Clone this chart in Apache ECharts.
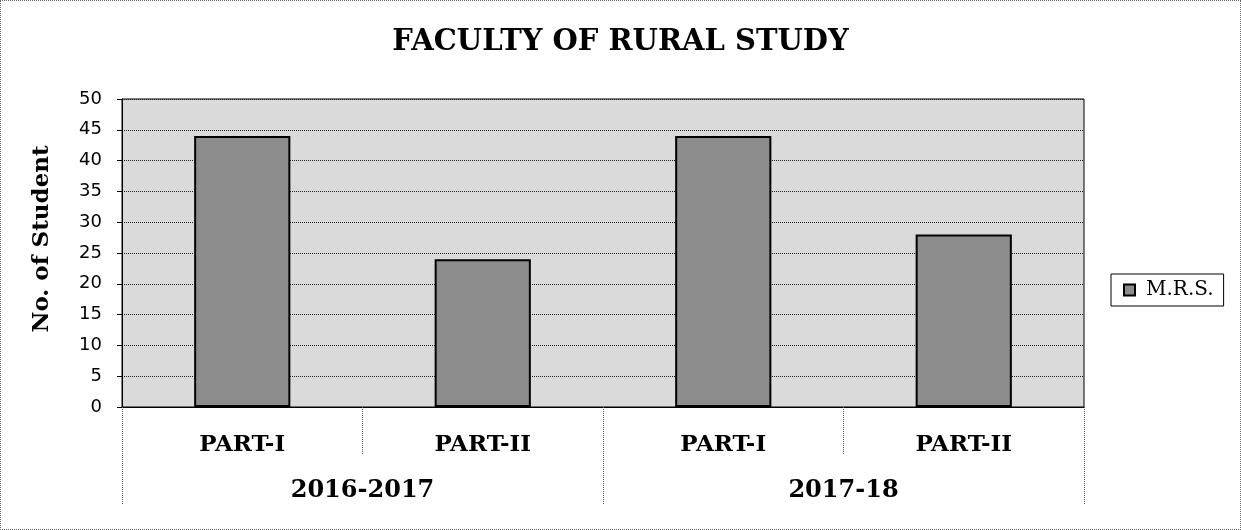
<!DOCTYPE html>
<html>
<head>
<meta charset="utf-8">
<script src="https://cdn.jsdelivr.net/npm/echarts@6/dist/echarts.min.js"></script>
<style>
  html, body { margin: 0; padding: 0; background: #fff; }
  #chart { width: 1241px; height: 530px; box-sizing: border-box; border: 1px dotted #666; }
</style>
</head>
<body>
<div id="chart"></div>
<script>
// ---- data ----
const parts = ['PART-I', 'PART-II', 'PART-I', 'PART-II'];
const years = ['2016-2017', '2017-18'];
const seriesName = 'M.R.S.';
const values = [44, 24, 44, 28];
const yTicks = { min: 0, max: 50, interval: 5 };

const chart = echarts.init(document.getElementById('chart'));
const serif = 'DejaVu Serif';
chart.setOption({
  animation: false,
  backgroundColor: '#ffffff',
  title: {
    text: 'FACULTY OF RURAL STUDY',
    left: 'center',
    top: 22,
    textStyle: { fontFamily: serif, fontWeight: 'bold', fontSize: 29, color: '#000' }
  },
  legend: {
    data: [seriesName],
    orient: 'vertical',
    left: 1110,
    top: 273,
    padding: [6, 10, 6, 12],
    itemWidth: 11,
    itemHeight: 11,
    itemGap: 6,
    icon: 'rect',
    borderColor: '#000',
    borderWidth: 1,
    textStyle: { fontFamily: serif, fontSize: 20, color: '#000', padding: [0, 0, 0, 6] }
  },
  grid: {
    left: 121, right: 156, top: 98, bottom: 122,
    show: true,
    backgroundColor: '#dadada',
    borderColor: '#000',
    borderWidth: 1
  },
  xAxis: [
    {
      type: 'category',
      data: parts,
      position: 'bottom',
      axisLine: { show: true, lineStyle: { color: '#000', width: 1 } },
      axisTick: { show: true, alignWithLabel: false, length: 48, lineStyle: { color: '#555', type: 'dotted' } },
      axisLabel: { margin: 27, fontFamily: serif, fontWeight: 'bold', fontSize: 23, color: '#000' },
      splitLine: { show: false }
    },
    {
      type: 'category',
      data: years,
      position: 'bottom',
      axisLine: { show: false },
      axisTick: { show: true, alignWithLabel: false, length: 98, lineStyle: { color: '#555', type: 'dotted' } },
      axisLabel: { margin: 72, fontFamily: serif, fontWeight: 'bold', fontSize: 24, color: '#000' },
      splitLine: { show: false }
    }
  ],
  yAxis: {
    type: 'value',
    min: yTicks.min,
    max: yTicks.max,
    interval: yTicks.interval,
    name: 'No. of Student',
    nameLocation: 'middle',
    nameGap: 68,
    nameTextStyle: { fontFamily: serif, fontWeight: 'bold', fontSize: 23, color: '#000', padding: [0, 0, 0, 28] },
    axisLine: { show: true, lineStyle: { color: '#000' } },
    axisTick: { show: true, length: 5, lineStyle: { color: '#000' } },
    axisLabel: { margin: 20, fontFamily: 'DejaVu Sans', fontSize: 18, color: '#000' },
    splitLine: { show: true, lineStyle: { color: '#222', type: 'dotted', width: 1 } }
  },
  series: [{
    name: seriesName,
    type: 'bar',
    xAxisIndex: 0,
    data: values,
    barCategoryGap: '60%',
    itemStyle: { color: '#8c8c8c', borderColor: '#000', borderWidth: 2 }
  }]
});
</script>
</body>
</html>
